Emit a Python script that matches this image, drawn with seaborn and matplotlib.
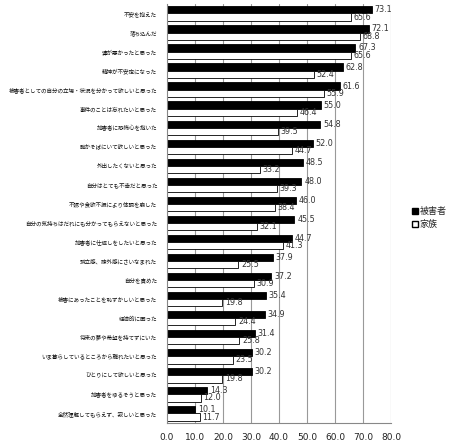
import matplotlib
matplotlib.use("Agg")
import matplotlib.pyplot as plt
import numpy as np
import pandas as pd
import seaborn as sns
from matplotlib.patches import Patch

categories = [
    "不安を抱えた",
    "落ち込んだ",
    "運が悪かったと思った",
    "精神が不安定になった",
    "被害者としての自分の立場・状況を分かって欲しいと思った",
    "事件のことは忘れたいと思った",
    "加害者に恐怖心を抱いた",
    "誰かそばにいて欲しいと思った",
    "外出したくないと思った",
    "自分はとても不幸だと思った",
    "不眠や食欲不振により体調を崩した",
    "自分の気持ちはだれにも分かってもらえないと思った",
    "加害者に仕返しをしたいと思った",
    "孤立感、疎外感にさいなまれた",
    "自分を責めた",
    "被害にあったことを恥ずかしいと思った",
    "経済的に困った",
    "将来の夢や希望を持てずにいた",
    "いま暮らしているところから離れたいと思った",
    "ひとりにして欲しいと思った",
    "加害者をゆるそうと思った",
    "全然理解してもらえず、寂しいと思った",
]
victim = [73.1, 72.1, 67.3, 62.8, 61.6, 55.0, 54.8, 52.0, 48.5, 48.0, 46.0,
          45.5, 44.7, 37.9, 37.2, 35.4, 34.9, 31.4, 30.2, 30.2, 14.3, 10.1]
family = [65.6, 68.8, 65.6, 52.4, 55.9, 46.4, 39.5, 44.7, 33.2, 39.3, 38.4,
          32.1, 41.3, 25.5, 30.9, 19.8, 24.4, 25.8, 23.5, 19.8, 12.0, 11.7]
series = ["被害者", "家族"]

df = pd.DataFrame({
    "item": categories * 2,
    "value": victim + family,
    "group": [series[0]] * len(categories) + [series[1]] * len(categories),
})

sns.set_style("white")
plt.rcParams["font.family"] = ["Noto Sans CJK JP", "DejaVu Sans"]

fig = plt.figure(figsize=(4.5, 4.41), dpi=100)
ax = fig.add_axes([0.371, 0.041, 0.498, 0.95])

sns.barplot(data=df, x="value", y="item", hue="group", order=categories,
            hue_order=series, palette={"被害者": "black", "家族": "white"},
            edgecolor="black", linewidth=0.6, width=0.76, ax=ax,
            legend=False, errorbar=None)

for cont in ax.containers:
    ax.bar_label(cont, fmt="%.1f", padding=2, fontsize=5.8, color="#333333",
                 family="DejaVu Sans")

ax.set_xlim(0, 80)
ax.set_xticks(np.arange(0, 81, 10))
ax.set_xticklabels([f"{v:.1f}" for v in np.arange(0, 81, 10)],
                   fontsize=6.5, family="DejaVu Sans", color="#222222")
ax.set_yticks(range(len(categories)), categories)
ax.tick_params(axis="y", labelsize=4.0, length=0, pad=7, labelcolor="#111111")
ax.set_yticks(np.arange(-0.5, len(categories), 1), minor=True)
ax.tick_params(axis="y", which="minor", length=3, color="#888888")
ax.set_ylim(len(categories) - 0.5, -0.5)
ax.set_xlabel("")
ax.set_ylabel("")
ax.grid(axis="x", color="#999999", linewidth=0.8)
ax.set_axisbelow(True)
for s in ["top", "right"]:
    ax.spines[s].set_visible(False)
ax.spines["left"].set_color("#888888")
ax.spines["bottom"].set_color("#888888")

handles = [Patch(facecolor="black", edgecolor="black", label="被害者"),
           Patch(facecolor="white", edgecolor="black", label="家族")]
fig.legend(handles=handles, loc="center left", bbox_to_anchor=(0.905, 0.505),
           frameon=False, fontsize=6.5, handlelength=0.7, handleheight=0.7,
           handletextpad=0.2, labelspacing=0.4, borderpad=0)

fig.savefig("out.png", dpi=100)
